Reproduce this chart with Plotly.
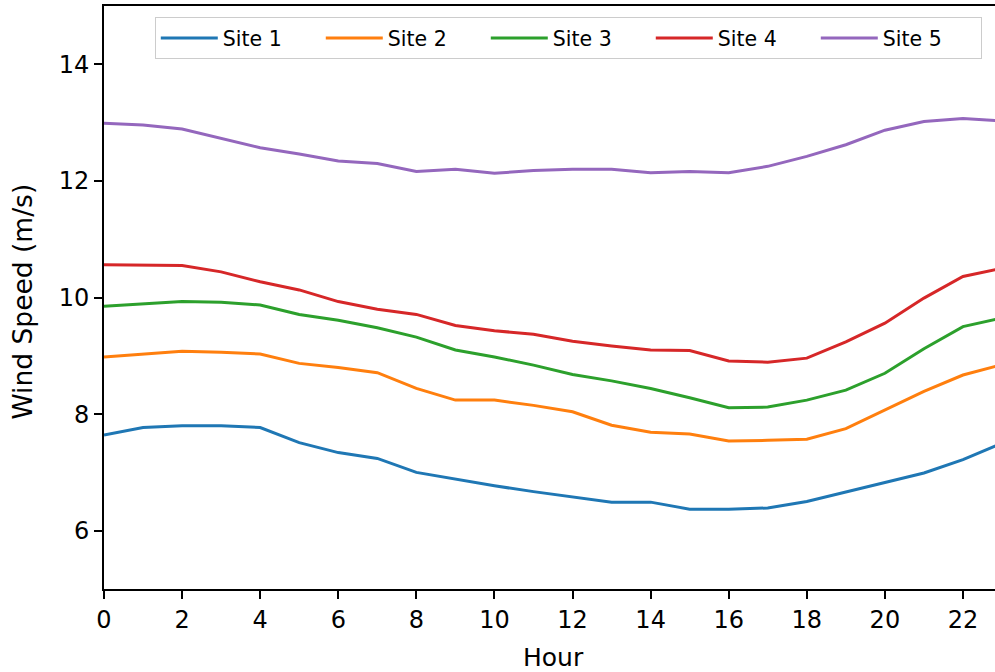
import plotly.graph_objects as go

# Hourly mean wind speed (m/s) at five measurement sites
hours = list(range(24))
site_names = ["Site 1", "Site 2", "Site 3", "Site 4", "Site 5"]

site1 = [7.64, 7.77, 7.80, 7.80, 7.77, 7.51, 7.34, 7.24, 7.00, 6.88, 6.77, 6.67,
         6.58, 6.49, 6.49, 6.37, 6.37, 6.39, 6.50, 6.66, 6.82, 6.99, 7.22, 7.50]
site2 = [8.98, 9.03, 9.08, 9.06, 9.03, 8.87, 8.80, 8.71, 8.44, 8.24, 8.24, 8.15,
         8.04, 7.81, 7.69, 7.66, 7.54, 7.55, 7.57, 7.75, 8.07, 8.39, 8.67, 8.85]
site3 = [9.85, 9.89, 9.93, 9.92, 9.87, 9.71, 9.61, 9.48, 9.32, 9.10, 8.98, 8.84,
         8.68, 8.57, 8.44, 8.28, 8.11, 8.12, 8.24, 8.41, 8.70, 9.12, 9.50, 9.65]
site4 = [10.56, 10.56, 10.55, 10.44, 10.27, 10.13, 9.93, 9.80, 9.71, 9.52, 9.43, 9.37,
         9.25, 9.17, 9.10, 9.09, 8.91, 8.89, 8.96, 9.24, 9.56, 9.99, 10.36, 10.50]
site5 = [12.99, 12.96, 12.89, 12.73, 12.57, 12.46, 12.34, 12.30, 12.16, 12.20, 12.13, 12.18,
         12.20, 12.20, 12.14, 12.16, 12.14, 12.25, 12.42, 12.62, 12.87, 13.02, 13.07, 13.03]

series = [site1, site2, site3, site4, site5]
colors = ["#1f77b4", "#ff7f0e", "#2ca02c", "#d62728", "#9467bd"]

x_ticks = list(range(0, 23, 2))
y_ticks = [6, 8, 10, 12, 14]

FONT = "DejaVu Sans"

fig = go.Figure()
for name, vals, col in zip(site_names, series, colors):
    fig.add_trace(go.Scatter(
        x=hours, y=vals, mode="lines", name=name,
        line=dict(color=col, width=3),
    ))

fig.update_layout(
    width=995, height=672,
    margin=dict(l=104, r=0, t=6, b=83),
    paper_bgcolor="white", plot_bgcolor="white",
    font=dict(family=FONT, color="black"),
    showlegend=True,
    legend=dict(
        orientation="h",
        x=0.057, y=0.981, xanchor="left", yanchor="top",
        bgcolor="rgba(255,255,255,0.8)",
        bordercolor="#cccccc", borderwidth=1,
        font=dict(family=FONT, size=20.5, color="black"),
        entrywidth=93, entrywidthmode="pixels",
        itemwidth=57,
        tracegroupgap=0,
    ),
    xaxis=dict(
        range=[0, 22.82], tickmode="array", tickvals=x_ticks,
        ticks="outside", ticklen=8, tickwidth=1.5, tickcolor="black",
        showline=True, linecolor="black", linewidth=2, mirror=True,
        showgrid=False, zeroline=False,
        tickfont=dict(family=FONT, size=24, color="black"),
    ),
    yaxis=dict(
        range=[5, 15], tickmode="array", tickvals=y_ticks,
        ticks="outside", ticklen=8, tickwidth=1.5, tickcolor="black",
        showline=True, linecolor="black", linewidth=2, mirror=False,
        showgrid=False, zeroline=False,
        tickfont=dict(family=FONT, size=24, color="black"),
    ),
    annotations=[
        dict(text="Hour", xref="paper", yref="paper", x=0.504, y=-0.118,
             xanchor="center", yanchor="middle", showarrow=False,
             font=dict(family=FONT, size=25, color="black")),
        dict(text="Wind Speed (m/s)", xref="paper", yref="paper", x=-0.091, y=0.493,
             xanchor="center", yanchor="middle", showarrow=False, textangle=-90,
             font=dict(family=FONT, size=26.5, color="black")),
    ],
)

fig.write_html("out.html")
